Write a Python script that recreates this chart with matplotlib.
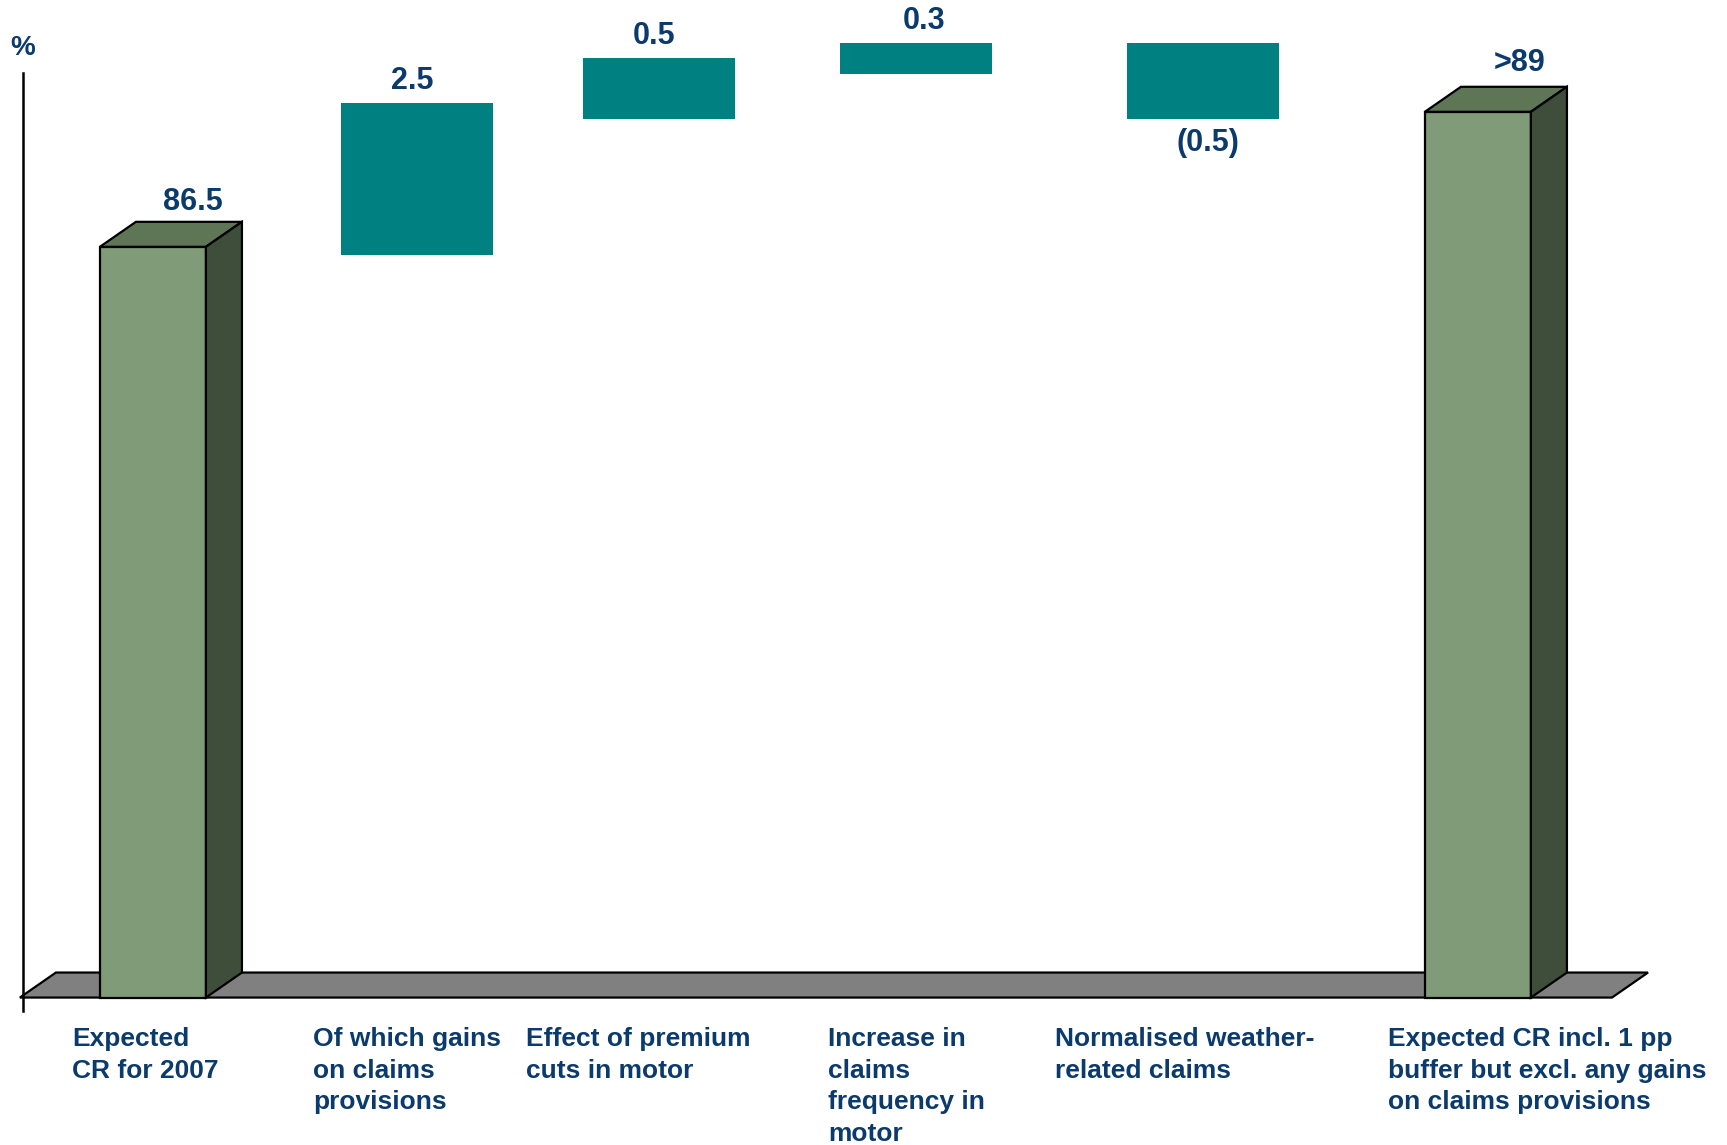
import matplotlib.pyplot as plt
from matplotlib.patches import Polygon
import numpy as np

plt.rcParams['font.family'] = ['Liberation Sans', 'DejaVu Sans']
plt.rcParams['font.weight'] = 'bold'

# categories (x labels, line breaks as in the slide)
categories = [
    "Expected\nCR for 2007",
    "Of which gains\non claims\nprovisions",
    "Effect of premium\ncuts in motor",
    "Increase in\nclaims\nfrequency in\nmotor",
    "Normalised weather-\nrelated claims",
    "Expected CR incl. 1 pp\nbuffer but excl. any gains\non claims provisions",
]
value_labels = ["86.5", "2.5", "0.5", "0.3", "(0.5)", ">89"]

# the slide is not drawn to scale, so levels are read off the picture
floor_level = 72.6
totals = [86.5, 89.0]              # first and last column
step_bottom = [86.35, 88.87, 89.70, 88.87]
step_top = [89.17, 90.00, 90.28, 90.28]

NAVY = "#0b3a6c"
TEAL = "#008080"
GREEN_FRONT = "#7f9b77"
GREEN_TOP = "#5e7556"
GREEN_SIDE = "#3f4e3b"
FLOOR = "#808080"

fig = plt.figure(figsize=(17.27, 11.45), dpi=100)
ax = fig.add_axes([0, 0, 1, 1])
ax.set_xlim(-0.577, 5.94)
ax.set_ylim(69.87, 91.07)
ax.axis("off")

# column slots are not evenly spaced on the slide
x = np.array([0, 0.996, 1.909, 2.881, 3.962, 5.0])
dx, dy = 0.136, 0.463   # 3d depth offset

# floor plane
fl, fr = -0.502, 5.506
ax.add_patch(Polygon([(fl, floor_level), (fr, floor_level),
                      (fr + dx, floor_level + dy), (fl + dx, floor_level + dy)],
                     closed=True, facecolor=FLOOR, edgecolor="black", lw=1.6, zorder=1))

# value axis line
ax.plot([-0.49, -0.49], [72.35, 89.72], color="black", lw=1.8, zorder=2)
ax.text(-0.492, 90.19, "%", color=NAVY, fontsize=20, ha="center", va="center")

# total columns as 3d boxes
tot_x = [x[0], x[-1]]
w = 0.40
ax.bar(tot_x, np.array(totals) - floor_level, bottom=floor_level, width=w,
       color=GREEN_FRONT, edgecolor="black", lw=1.6, zorder=3)
for xc, top in zip(tot_x, totals):
    l, r = xc - w / 2, xc + w / 2
    ax.add_patch(Polygon([(l, top), (r, top), (r + dx, top + dy), (l + dx, top + dy)],
                         closed=True, facecolor=GREEN_TOP, edgecolor="black", lw=1.6, zorder=3))
    ax.add_patch(Polygon([(r, floor_level), (r + dx, floor_level + dy),
                          (r + dx, top + dy), (r, top)],
                         closed=True, facecolor=GREEN_SIDE, edgecolor="black", lw=1.6, zorder=3))

# floating steps
step_x = x[1:-1]
ax.bar(step_x, np.array(step_top) - np.array(step_bottom), bottom=step_bottom,
       width=0.574, color=TEAL, lw=0, zorder=3)

# value labels
lab_kw = dict(color=NAVY, fontsize=22, ha="center", va="center",
              textcoords="offset pixels")
ax.annotate(value_labels[0], (tot_x[0] + dx, totals[0] + dy), xytext=(4, 20), **lab_kw)
ax.annotate(value_labels[-1], (tot_x[1] + dx, totals[1] + dy), xytext=(6, 24), **lab_kw)
for i, xc in enumerate(step_x):
    lbl = value_labels[i + 1]
    if lbl.startswith("("):
        ax.annotate(lbl, (xc, step_bottom[i]), xytext=(5, -24), **lab_kw)
    else:
        ax.annotate(lbl, (xc, step_top[i]), xytext=(-5 if i < 2 else 8, 22), **lab_kw)

# category labels, left aligned under each column
label_left = [72, 313, 526, 828, 1055, 1388]
for txt, lx in zip(categories, label_left):
    fig.text(lx / 1727, 1 - 1027 / 1145, txt, color=NAVY, fontsize=19,
             ha="left", va="top", linespacing=1.40)

fig.savefig("out.png", dpi=100)
